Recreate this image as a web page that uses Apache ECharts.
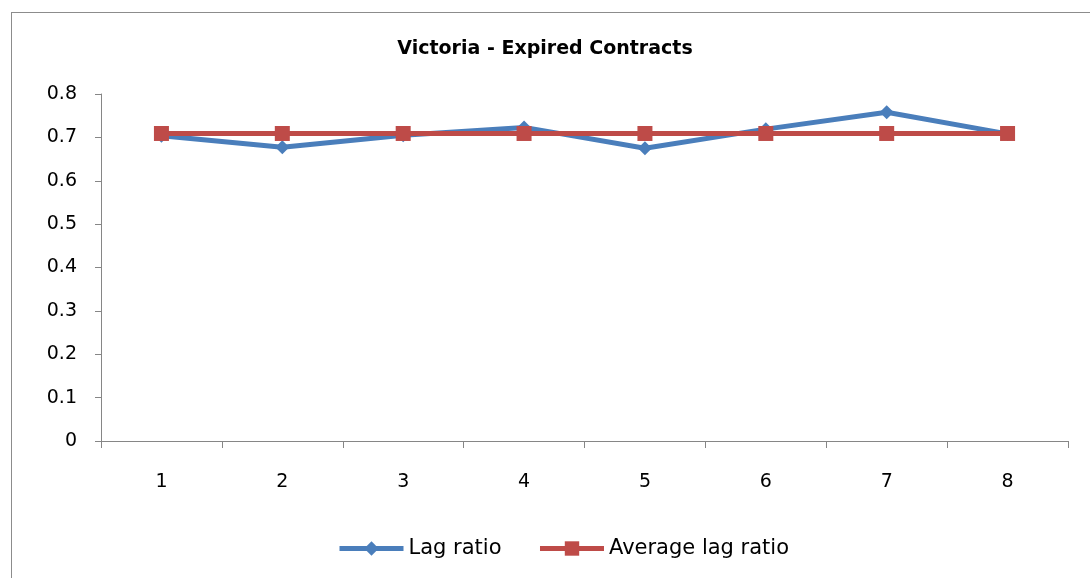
<!DOCTYPE html>
<html>
<head>
<meta charset="utf-8">
<script src="https://cdn.jsdelivr.net/npm/echarts@6/dist/echarts.min.js"></script>
<style>
    html, body { margin: 0; padding: 0; background: #fff; }
    #frame {
        position: absolute; left: 11px; top: 12px; width: 1090px; height: 580px;
        border: 1px solid #8c8c8c; box-sizing: border-box;
    }
    #chart { position: absolute; left: 0; top: 0; width: 1090px; height: 578px; }
</style>
</head>
<body>
<div id="frame"></div>
<div id="chart"></div>
<script>
    // data
    var categories = ['1', '2', '3', '4', '5', '6', '7', '8'];
    var lagRatio = [0.704, 0.677, 0.705, 0.723, 0.675, 0.719, 0.758, 0.708];
    var avgLagRatio = [0.709, 0.709, 0.709, 0.709, 0.709, 0.709, 0.709, 0.709];

    var font = '"DejaVu Sans", sans-serif';
    var chart = echarts.init(document.getElementById('chart'));
    chart.setOption({
        animation: false,
        title: {
            text: 'Victoria - Expired Contracts',
            left: 'center',
            top: 35,
            textStyle: { fontFamily: font, fontSize: 19, fontWeight: 'bold', color: '#000' }
        },
        legend: {
            bottom: 14,
            left: 332,
            itemWidth: 64,
            itemHeight: 18,
            itemGap: 36,
            lineStyle: { width: 5 },
            textStyle: { fontFamily: font, fontSize: 21, color: '#000' },
            data: ['Lag ratio', 'Average lag ratio']
        },
        grid: { left: 101, right: 22, top: 94, bottom: 137 },
        xAxis: {
            type: 'category',
            data: categories,
            boundaryGap: true,
            axisLine: { lineStyle: { color: '#868686', width: 1 } },
            axisTick: { show: true, length: 7, lineStyle: { color: '#868686' } },
            axisLabel: { fontFamily: font, fontSize: 19, color: '#000', margin: 32 }
        },
        yAxis: {
            type: 'value',
            min: 0, max: 0.8, interval: 0.1,
            axisLine: { show: true, lineStyle: { color: '#868686', width: 1 } },
            axisTick: { show: true, length: 6, lineStyle: { color: '#868686' } },
            splitLine: { show: false },
            axisLabel: {
                fontFamily: font, fontSize: 19, color: '#000', margin: 24,
                formatter: function (v) { return v === 0 ? '0' : v.toFixed(1); }
            }
        },
        series: [
            {
                name: 'Lag ratio',
                type: 'line',
                data: lagRatio,
                symbol: 'diamond',
                symbolSize: 14,
                lineStyle: { color: '#4a7ebb', width: 5 },
                itemStyle: { color: '#4a7ebb' }
            },
            {
                name: 'Average lag ratio',
                type: 'line',
                data: avgLagRatio,
                symbol: 'rect',
                symbolSize: 15,
                lineStyle: { color: '#be4b48', width: 5 },
                itemStyle: { color: '#be4b48' }
            }
        ]
    });
</script>
</body>
</html>
